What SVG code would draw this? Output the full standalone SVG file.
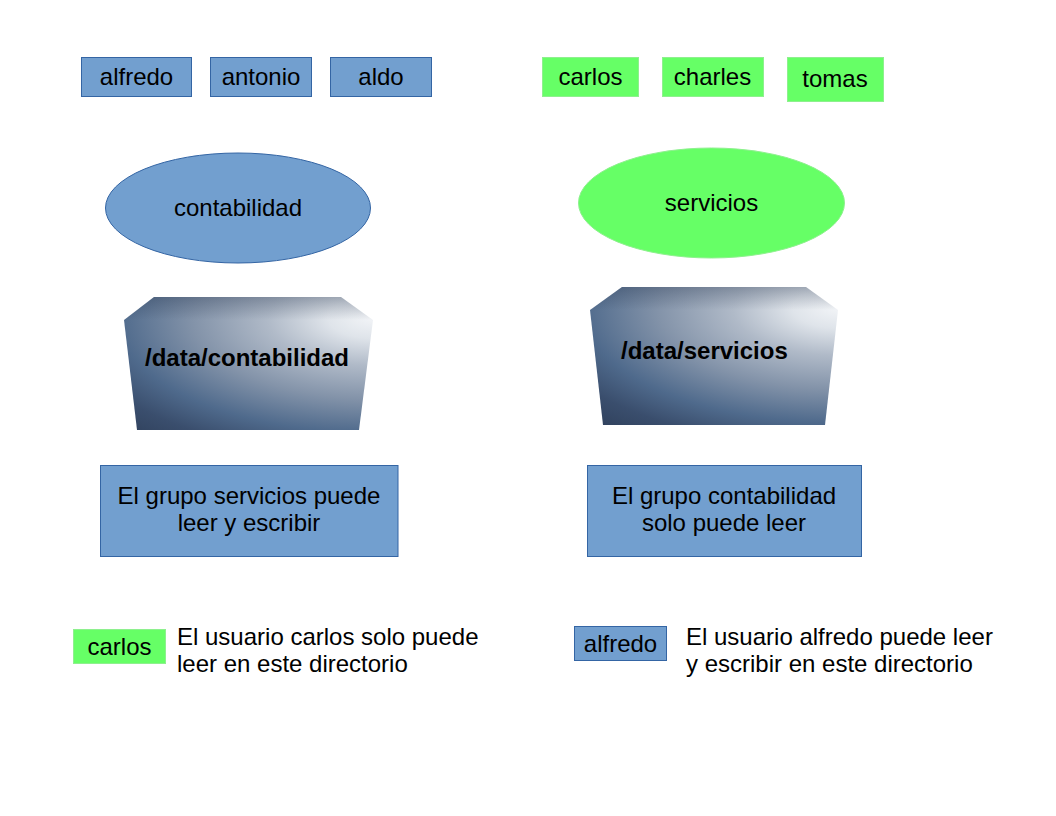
<svg xmlns="http://www.w3.org/2000/svg" width="1056" height="816" viewBox="0 0 1056 816">
<style>
  text { font-family: "Liberation Sans", Arial, sans-serif; font-size: 24px; fill: #000; }
  .c { text-anchor: middle; }
  .b { font-weight: bold; }
  .blue { fill: #729fcf; stroke: #3465a4; stroke-width: 1; }
  .green { fill: #66ff66; stroke: #8ef08e; stroke-width: 1; }
  .topface { fill: url(#topgrad); stroke: none; }
</style>
<defs>
  <radialGradient id="dirgrad1" gradientUnits="userSpaceOnUse" cx="373" cy="318" r="375" fx="373" fy="318" gradientTransform="translate(373,318) scale(1,0.45) translate(-373,-318)">
    <stop offset="0" stop-color="#f2f4f7"/>
    <stop offset="0.12" stop-color="#dfe4ea"/>
    <stop offset="0.28" stop-color="#b0bac8"/>
    <stop offset="0.48" stop-color="#8393a9"/>
    <stop offset="0.68" stop-color="#4f6a8c"/>
    <stop offset="0.82" stop-color="#3a4e6d"/>
    <stop offset="1" stop-color="#2c3c56"/>
  </radialGradient>
  <radialGradient id="dirgrad2" href="#dirgrad1" cx="838" cy="308" fx="838" fy="308" gradientTransform="translate(838,308) scale(1,0.45) translate(-838,-308)"/>
  <linearGradient id="topgrad" x1="0" y1="0" x2="0" y2="1">
    <stop offset="0" stop-color="#1e2d46" stop-opacity="0.3"/>
    <stop offset="1" stop-color="#1e2d46" stop-opacity="0"/>
  </linearGradient>
</defs>
<rect width="1056" height="816" fill="#ffffff"/>

<g id="user-alfredo"><rect class="blue" x="81.5" y="57.5" width="110" height="39"/><text class="c" x="136.5" y="85">alfredo</text></g>
<g id="user-antonio"><rect class="blue" x="210.5" y="57.5" width="101" height="39"/><text class="c" x="261" y="85">antonio</text></g>
<g id="user-aldo"><rect class="blue" x="330.5" y="57.5" width="101" height="39"/><text class="c" x="381" y="85">aldo</text></g>

<g id="user-carlos"><rect class="green" x="542.5" y="57.5" width="96" height="39"/><text class="c" x="590.5" y="85">carlos</text></g>
<g id="user-charles"><rect class="green" x="662.5" y="57.5" width="101" height="39"/><text class="c" x="712.5" y="85">charles</text></g>
<g id="user-tomas"><rect class="green" x="787.5" y="57.5" width="96" height="44"/><text class="c" x="835" y="87">tomas</text></g>

<g id="group-contabilidad"><ellipse class="blue" cx="238" cy="208" rx="132.5" ry="55"/><text class="c" x="238" y="216">contabilidad</text></g>
<g id="group-servicios"><ellipse class="green" cx="711.5" cy="203" rx="133" ry="55"/><text class="c" x="711.5" y="211">servicios</text></g>

<g id="dir-contabilidad">
  <polygon fill="url(#dirgrad1)" points="154,297 341,297 373,320 359,430 137,430 124,320"/>
  <polygon class="topface" points="154,297 341,297 373,320 124,320"/>
  <text class="b" x="145" y="366">/data/contabilidad</text>
</g>
<g id="dir-servicios">
  <polygon fill="url(#dirgrad2)" points="622,287 806,287 838,310 825,425 603,425 590,310"/>
  <polygon class="topface" points="622,287 806,287 838,310 590,310"/>
  <text class="b" x="621" y="359">/data/servicios</text>
</g>

<g id="note-contabilidad"><rect class="blue" x="100.5" y="465.5" width="297.5" height="91"/><text class="c" x="249" y="504">El grupo servicios puede</text><text class="c" x="249" y="531">leer y escribir</text></g>
<g id="note-servicios"><rect class="blue" x="587.5" y="465.5" width="274" height="91"/><text class="c" x="724" y="504">El grupo contabilidad</text><text class="c" x="724" y="531">solo puede leer</text></g>

<g id="legend-carlos"><rect class="green" x="73.5" y="629.5" width="92" height="34"/><text class="c" x="119.5" y="655">carlos</text><text x="177" y="645">El usuario carlos solo puede</text><text x="177" y="672">leer en este directorio</text></g>
<g id="legend-alfredo"><rect class="blue" x="574.5" y="626.5" width="92" height="34"/><text class="c" x="620.5" y="652">alfredo</text><text x="686" y="645">El usuario alfredo puede leer</text><text x="686" y="672">y escribir en este directorio</text></g>

<g id="connectors"></g>
</svg>
